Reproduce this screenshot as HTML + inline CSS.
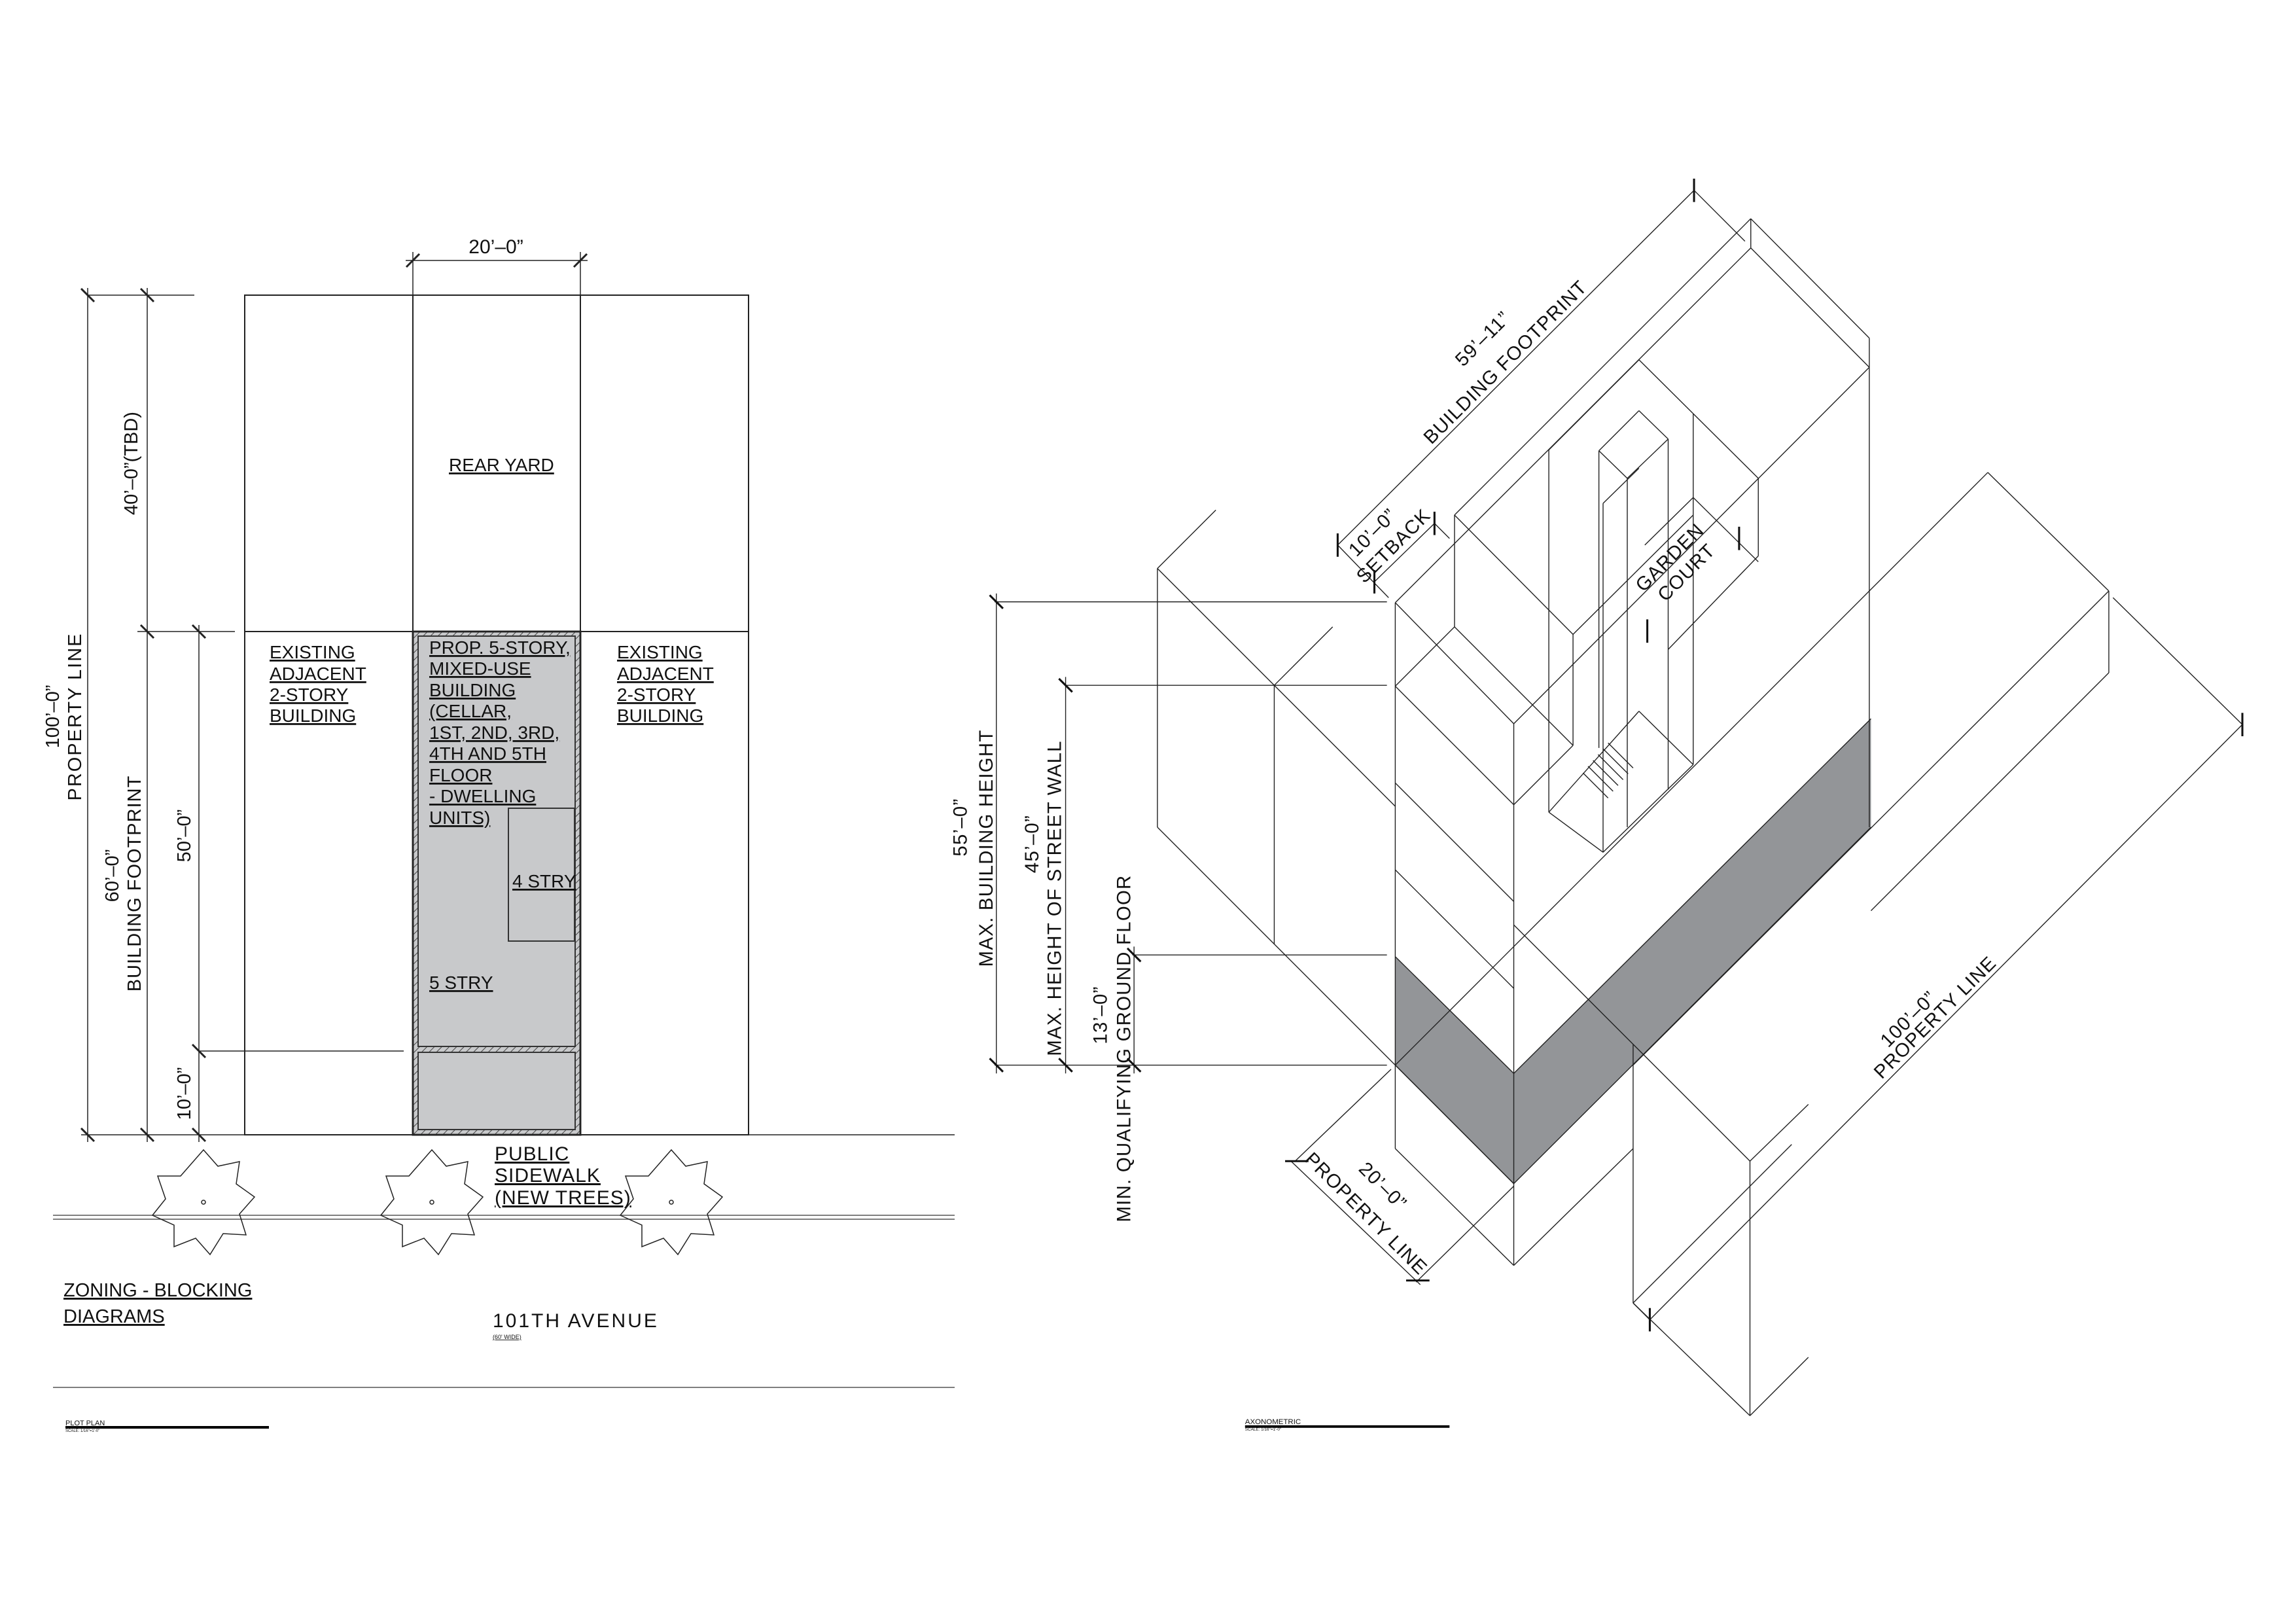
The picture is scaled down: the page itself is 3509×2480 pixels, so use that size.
<!DOCTYPE html>
<html><head><meta charset="utf-8"><style>
html,body{margin:0;padding:0;background:#fff;}
svg{display:block;}
.t{font-family:"Liberation Sans",Arial,sans-serif;fill:#111;}
.n{font-family:"Liberation Sans Narrow","Liberation Sans",sans-serif;fill:#111;}
</style></head><body>
<svg width="3509" height="2480" viewBox="0 0 3509 2480" xmlns="http://www.w3.org/2000/svg">
<defs>
<pattern id="h" width="8" height="8" patternUnits="userSpaceOnUse" patternTransform="rotate(45)">
<rect width="8" height="8" fill="#c8c9cb"/><line x1="0" y1="0" x2="0" y2="8" stroke="#444" stroke-width="2"/></pattern>
</defs>
<rect width="3509" height="2480" fill="#fff"/>

<!-- ============ PLOT PLAN ============ -->
<g stroke="#222" stroke-width="2" fill="none">
<rect x="631" y="965" width="256" height="769" fill="url(#h)" stroke="#333" stroke-width="3"/>
<rect x="639" y="972" width="240" height="627" fill="#c8c9cb" stroke="#333"/>
<rect x="639" y="1608" width="240" height="118" fill="#c8c9cb" stroke="#333"/>
<rect x="777" y="1235" width="101" height="203" stroke="#333"/>
<rect x="374" y="451" width="770" height="1283"/>
<line x1="631" y1="451" x2="631" y2="1734"/>
<line x1="887" y1="451" x2="887" y2="1734"/>
<line x1="374" y1="965" x2="1144" y2="965"/>
<line x1="134" y1="451" x2="297" y2="451" stroke-width="1.5"/>
<line x1="210" y1="965" x2="359" y2="965" stroke-width="1.5"/>
<line x1="304" y1="1606" x2="617" y2="1606" stroke-width="1.5"/>
<line x1="124" y1="1734" x2="1459" y2="1734" stroke-width="1.5"/>
<line x1="134" y1="440" x2="134" y2="1745" stroke-width="1.5"/>
<line x1="225" y1="440" x2="225" y2="1745" stroke-width="1.5"/>
<line x1="304" y1="955" x2="304" y2="1745" stroke-width="1.5"/>
<g stroke-width="3">
<line x1="124" y1="441" x2="144" y2="461"/><line x1="215" y1="441" x2="235" y2="461"/>
<line x1="215" y1="955" x2="235" y2="975"/><line x1="294" y1="955" x2="314" y2="975"/>
<line x1="294" y1="1596" x2="314" y2="1616"/>
<line x1="124" y1="1724" x2="144" y2="1744"/><line x1="215" y1="1724" x2="235" y2="1744"/><line x1="294" y1="1724" x2="314" y2="1744"/>
<line x1="621" y1="408" x2="641" y2="388"/><line x1="877" y1="408" x2="897" y2="388"/>
</g>
<line x1="620" y1="398" x2="898" y2="398" stroke-width="1.5"/>
<line x1="631" y1="385" x2="631" y2="451" stroke-width="1.5"/>
<line x1="887" y1="385" x2="887" y2="451" stroke-width="1.5"/>
<line x1="81" y1="1857" x2="1459" y2="1857" stroke-width="1.5" stroke="#555"/>
<line x1="81" y1="1863" x2="1459" y2="1863" stroke-width="1.5" stroke="#555"/>
<line x1="81" y1="2120" x2="1459" y2="2120" stroke-width="1.5" stroke="#555"/>
<line x1="100" y1="2181" x2="411" y2="2181" stroke-width="4" stroke="#000"/>
</g>
<!-- trees -->
<g fill="none" stroke="#222" stroke-width="1.5">
<g transform="translate(311,1837)"><polygon points="0,-80 22,-55 55,-62 50,-28 78,-8 55,18 65,50 30,48 10,80 -12,55 -45,68 -45,35 -78,20 -58,-5 -70,-40 -35,-40"/><circle r="3"/></g>
<g transform="translate(660,1837)"><polygon points="0,-80 22,-55 55,-62 50,-28 78,-8 55,18 65,50 30,48 10,80 -12,55 -45,68 -45,35 -78,20 -58,-5 -70,-40 -35,-40"/><circle r="3"/></g>
<g transform="translate(1026,1837)"><polygon points="0,-80 22,-55 55,-62 50,-28 78,-8 55,18 65,50 30,48 10,80 -12,55 -45,68 -45,35 -78,20 -58,-5 -70,-40 -35,-40"/><circle r="3"/></g>
</g>
<g class="t" font-size="28">
<text x="758" y="387" class="n" text-anchor="middle" font-size="30">20’–0”</text>
<text x="686" y="720" text-decoration="underline">REAR YARD</text>
<text x="412" y="1006" text-decoration="underline">EXISTING</text>
<text x="412" y="1039" text-decoration="underline">ADJACENT</text>
<text x="412" y="1071" text-decoration="underline">2-STORY</text>
<text x="412" y="1103" text-decoration="underline">BUILDING</text>
<text x="943" y="1006" text-decoration="underline">EXISTING</text>
<text x="943" y="1039" text-decoration="underline">ADJACENT</text>
<text x="943" y="1071" text-decoration="underline">2-STORY</text>
<text x="943" y="1103" text-decoration="underline">BUILDING</text>
<text x="656" y="999" text-decoration="underline">PROP. 5-STORY,</text>
<text x="656" y="1031" text-decoration="underline">MIXED-USE</text>
<text x="656" y="1064" text-decoration="underline">BUILDING</text>
<text x="656" y="1096" text-decoration="underline">(CELLAR,</text>
<text x="656" y="1129" text-decoration="underline">1ST, 2ND, 3RD,</text>
<text x="656" y="1161" text-decoration="underline">4TH AND 5TH</text>
<text x="656" y="1194" text-decoration="underline">FLOOR</text>
<text x="656" y="1226" text-decoration="underline">- DWELLING</text>
<text x="656" y="1259" text-decoration="underline">UNITS)</text>
<text x="783" y="1356" text-decoration="underline">4 STRY</text>
<text x="656" y="1511" text-decoration="underline">5 STRY</text>
<g fill="#666" font-size="30" class="n" letter-spacing="1">
<text x="756" y="1773" text-decoration="underline">PUBLIC</text>
<text x="756" y="1806" text-decoration="underline">SIDEWALK</text>
<text x="756" y="1840" text-decoration="underline">(NEW  TREES)</text>
<text x="753" y="2028" letter-spacing="3">101TH  AVENUE</text>
</g>
<text x="753" y="2046" font-size="9" text-decoration="underline">(60' WIDE)</text>
<text x="97" y="1981" font-size="29" text-decoration="underline">ZONING - BLOCKING</text>
<text x="97" y="2021" font-size="29" text-decoration="underline">DIAGRAMS</text>
<text x="100" y="2178" font-size="11">PLOT  PLAN</text>
<text x="100" y="2188" font-size="6">SCALE: 1/16"=1'-0"</text>
</g>
<g class="n" font-size="29" text-anchor="middle" dominant-baseline="central">
<text transform="translate(81,1095) rotate(-90)">100’–0”</text>
<text transform="translate(115,1095) rotate(-90)" letter-spacing="2">PROPERTY LINE</text>
<text transform="translate(201,708) rotate(-90)">40’–0”(TBD)</text>
<text transform="translate(172,1338) rotate(-90)">60’–0”</text>
<text transform="translate(206,1350) rotate(-90)" letter-spacing="1">BUILDING FOOTPRINT</text>
<text transform="translate(282,1277) rotate(-90)">50’–0”</text>
<text transform="translate(282,1671) rotate(-90)">10’–0”</text>
</g>

<!-- ============ AXONOMETRIC (zoom coords) ============ -->
<g transform="translate(1450,250) scale(1.2755)">
<polygon points="535,950 677,1090 1105,665 1105,795 677,1222 535,1080" fill="#939598"/>
<g stroke="#222" stroke-width="1.1" fill="none">
<!-- dims top -->
<line x1="466" y1="457" x2="893" y2="32"/>
<line x1="893" y1="32" x2="954" y2="93"/>
<line x1="466" y1="457" x2="527" y2="520"/>
<line x1="510" y1="501" x2="582" y2="431"/>
<line x1="582" y1="431" x2="600" y2="449"/>
<!-- rear -->
<line x1="961" y1="66" x2="961" y2="101"/>
<line x1="961" y1="66" x2="1103" y2="209"/>
<line x1="961" y1="101" x2="1103" y2="244"/>
<line x1="1103" y1="209" x2="1103" y2="795"/>
<line x1="961" y1="66" x2="606" y2="421"/>
<line x1="961" y1="101" x2="535" y2="526"/>
<line x1="1103" y1="244" x2="677" y2="671"/>
<line x1="606" y1="421" x2="606" y2="555"/>
<line x1="606" y1="421" x2="748" y2="564"/>
<line x1="748" y1="564" x2="748" y2="697"/>
<line x1="535" y1="526" x2="677" y2="671"/>
<line x1="677" y1="671" x2="677" y2="1320"/>
<line x1="535" y1="526" x2="535" y2="1180"/>
<line x1="606" y1="555" x2="535" y2="626"/>
<line x1="535" y1="626" x2="677" y2="768"/>
<line x1="606" y1="555" x2="748" y2="697"/>
<line x1="748" y1="697" x2="677" y2="768"/>
<line x1="535" y1="742" x2="677" y2="884"/>
<line x1="535" y1="846" x2="677" y2="988"/>
<!-- building face -->
<line x1="677" y1="1090" x2="1105" y2="665"/>
<line x1="677" y1="1222" x2="1105" y2="795"/>
<line x1="535" y1="950" x2="677" y2="1090"/>
<line x1="535" y1="1080" x2="677" y2="1222"/>
<line x1="535" y1="1180" x2="677" y2="1320"/>
<line x1="677" y1="1320" x2="820" y2="1180"/>
<!-- interior court -->
<line x1="827" y1="235" x2="970" y2="377"/>
<line x1="827" y1="235" x2="719" y2="343"/>
<line x1="719" y1="343" x2="719" y2="777"/>
<line x1="970" y1="377" x2="970" y2="470"/>
<line x1="970" y1="470" x2="862" y2="582"/>
<line x1="892" y1="300" x2="892" y2="720"/>
<line x1="892" y1="400" x2="834" y2="457"/>
<line x1="892" y1="400" x2="970" y2="477"/>
<line x1="862" y1="330" x2="862" y2="750"/>
<line x1="827" y1="296" x2="779" y2="344"/>
<line x1="827" y1="296" x2="862" y2="330"/>
<line x1="779" y1="344" x2="779" y2="700"/>
<line x1="779" y1="344" x2="813" y2="377"/>
<line x1="813" y1="377" x2="813" y2="795"/>
<line x1="813" y1="377" x2="862" y2="330"/>
<line x1="784" y1="407" x2="784" y2="825"/>
<line x1="784" y1="407" x2="827" y2="365"/>
<line x1="748" y1="564" x2="892" y2="421"/>
<line x1="719" y1="777" x2="827" y2="656"/>
<line x1="827" y1="656" x2="892" y2="720"/>
<line x1="719" y1="777" x2="784" y2="825"/>
<line x1="784" y1="825" x2="892" y2="720"/>
<line x1="760" y1="730" x2="790" y2="760"/><line x1="766" y1="722" x2="796" y2="752"/><line x1="772" y1="715" x2="802" y2="745"/><line x1="778" y1="708" x2="808" y2="738"/><line x1="784" y1="701" x2="814" y2="731"/><line x1="790" y1="694" x2="820" y2="724"/>
<!-- left neighbor -->
<line x1="250" y1="485" x2="250" y2="795"/>
<line x1="250" y1="485" x2="320" y2="415"/>
<line x1="250" y1="485" x2="535" y2="770"/>
<line x1="250" y1="795" x2="677" y2="1222"/>
<line x1="390" y1="625" x2="390" y2="935"/>
<line x1="390" y1="625" x2="460" y2="555"/>
<!-- right neighbor -->
<line x1="1245" y1="370" x2="535" y2="1080"/>
<line x1="1245" y1="370" x2="1390" y2="512"/>
<line x1="1390" y1="512" x2="1390" y2="610"/>
<line x1="1390" y1="512" x2="820" y2="1080"/>
<line x1="1390" y1="610" x2="1105" y2="895"/>
<line x1="820" y1="1055" x2="820" y2="1365"/>
<line x1="677" y1="912" x2="960" y2="1195"/>
<line x1="960" y1="1195" x2="960" y2="1500"/>
<line x1="960" y1="1195" x2="1030" y2="1127"/>
<line x1="960" y1="1500" x2="1030" y2="1430"/>
<line x1="820" y1="1365" x2="1010" y2="1175"/>
<line x1="820" y1="1365" x2="960" y2="1500"/>
<line x1="677" y1="1225" x2="560" y2="1340"/>
<!-- height dims -->
<line x1="55" y1="525" x2="525" y2="525"/>
<line x1="140" y1="625" x2="525" y2="625"/>
<line x1="220" y1="948" x2="525" y2="948"/>
<line x1="55" y1="1080" x2="525" y2="1080"/>
<line x1="57" y1="515" x2="57" y2="1090"/>
<line x1="140" y1="615" x2="140" y2="1090"/>
<line x1="222" y1="938" x2="222" y2="1090"/>
<line x1="410" y1="1195" x2="565" y2="1343"/>
<line x1="415" y1="1195" x2="530" y2="1085"/>
<line x1="840" y1="1385" x2="1550" y2="672"/>
<line x1="1550" y1="672" x2="1395" y2="520"/>
<line x1="840" y1="1385" x2="820" y2="1365"/>
</g>
<g stroke="#111" stroke-width="2.4">
<line x1="49" y1="517" x2="65" y2="533"/><line x1="49" y1="1072" x2="65" y2="1088"/>
<line x1="132" y1="617" x2="148" y2="633"/><line x1="132" y1="1072" x2="148" y2="1088"/>
<line x1="214" y1="940" x2="230" y2="956"/><line x1="214" y1="1072" x2="230" y2="1088"/>
<line x1="893" y1="18" x2="893" y2="46"/><line x1="466" y1="443" x2="466" y2="471"/>
<line x1="582" y1="417" x2="582" y2="445"/><line x1="510" y1="487" x2="510" y2="515"/>
<line x1="947" y1="435" x2="947" y2="463"/><line x1="837" y1="546" x2="837" y2="574"/>
<line x1="403" y1="1195" x2="431" y2="1195"/><line x1="548" y1="1338" x2="576" y2="1338"/>
<line x1="840" y1="1371" x2="840" y2="1399"/><line x1="1550" y1="658" x2="1550" y2="686"/>
</g>
<g class="n" font-size="23" text-anchor="middle" dominant-baseline="central" letter-spacing="1">
<text transform="translate(640,210) rotate(-45)">59’–11”</text>
<text transform="translate(667,238) rotate(-45)">BUILDING FOOTPRINT</text>
<text transform="translate(508,442) rotate(-45)">10’–0”</text>
<text transform="translate(533,458) rotate(-45)">SETBACK</text>
<text transform="translate(864,472) rotate(-45)">GARDEN</text>
<text transform="translate(884,490) rotate(-45)">COURT</text>
<text transform="translate(1150,1025) rotate(-45)">100’–0”</text>
<text transform="translate(1182,1023) rotate(-45)">PROPERTY LINE</text>
<text transform="translate(520,1225) rotate(45)">20’–0”</text>
<text transform="translate(500,1258) rotate(45)">PROPERTY LINE</text>
<text transform="translate(14,795) rotate(-90)">55’–0”</text>
<text transform="translate(45,820) rotate(-90)">MAX. BUILDING HEIGHT</text>
<text transform="translate(100,815) rotate(-90)">45’–0”</text>
<text transform="translate(127,880) rotate(-90)">MAX. HEIGHT OF STREET WALL</text>
<text transform="translate(182,1020) rotate(-90)">13’–0”</text>
<text transform="translate(210,1060) rotate(-90)">MIN. QUALIFYING GROUND FLOOR</text>
</g>
<line x1="355" y1="1513" x2="600" y2="1513" stroke="#000" stroke-width="3"/>
<text x="355" y="1510" class="t" font-size="9">AXONOMETRIC</text>
<text x="355" y="1518" class="t" font-size="5">SCALE: 1/16"=1'-0"</text>
</g>
</svg>
</body></html>
